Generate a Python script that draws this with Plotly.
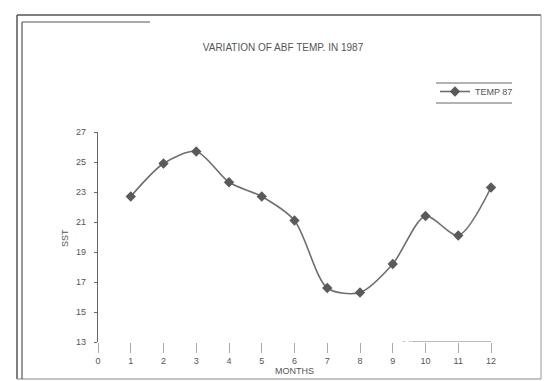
import plotly.graph_objects as go

months = [1, 2, 3, 4, 5, 6, 7, 8, 9, 10, 11, 12]
sst_1987 = [22.7, 24.9, 25.7, 23.65, 22.7, 21.1, 16.6, 16.3, 18.2, 21.4, 20.1, 23.3]
x_ticks = list(range(0, 13))
y_ticks = [13, 15, 17, 19, 21, 23, 25, 27]

W, H = 548, 381
L, R, T, B = 98, 57, 132, 39
pw, ph = W - L - R, H - T - B

def px(x):
    return (x - L) / pw

def py(y):
    return (H - B - y) / ph

fig = go.Figure()
fig.add_trace(go.Scatter(
    x=months, y=sst_1987, mode="lines+markers", name="TEMP 87",
    line=dict(color="#6e6e6e", width=1.6, shape="spline", smoothing=0.8),
    marker=dict(symbol="diamond", size=8, color="#5a5a5a"),
    cliponaxis=False,
))

frame_col = "#555555"
shapes = [
    # outer frame
    dict(type="line", xref="paper", yref="paper", x0=px(17), x1=px(17), y0=py(15), y1=py(379), line=dict(color=frame_col, width=1.5)),
    dict(type="line", xref="paper", yref="paper", x0=px(17), x1=px(541), y0=py(15), y1=py(15), line=dict(color=frame_col, width=1.5)),
    dict(type="line", xref="paper", yref="paper", x0=px(541), x1=px(541), y0=py(15), y1=py(379), line=dict(color="#999999", width=1)),
    dict(type="line", xref="paper", yref="paper", x0=px(17), x1=px(541), y0=py(379), y1=py(379), line=dict(color="#888888", width=1)),
    # inner frame lines
    dict(type="line", xref="paper", yref="paper", x0=px(22), x1=px(22), y0=py(22), y1=py(379), line=dict(color=frame_col, width=1.2)),
    dict(type="line", xref="paper", yref="paper", x0=px(22), x1=px(150), y0=py(22), y1=py(22), line=dict(color=frame_col, width=1.2)),
    # legend top/bottom rules
    dict(type="line", xref="paper", yref="paper", x0=px(436), x1=px(512), y0=py(83), y1=py(83), line=dict(color="#666666", width=1)),
    dict(type="line", xref="paper", yref="paper", x0=px(436), x1=px(512), y0=py(103), y1=py(103), line=dict(color="#666666", width=1)),
    # faint x-axis remnant
    dict(type="line", xref="x", yref="y", x0=9.6, x1=12, y0=13, y1=13, line=dict(color="#777777", width=1.2)),
    dict(type="line", xref="x", yref="y", x0=9.3, x1=9.6, y0=13, y1=13, line=dict(color="#999999", width=1, dash="dot")),
]

annotations = [
    dict(text="MONTHS", xref="paper", yref="paper", x=px(294), y=py(371), xanchor="center", yanchor="middle",
         showarrow=False, font=dict(size=9, color="#555555")),
    dict(text="SST", xref="paper", yref="paper", x=px(65), y=py(238), xanchor="center", yanchor="middle",
         textangle=-90, showarrow=False, font=dict(size=9, color="#555555")),
]

fig.update_layout(
    width=W, height=H,
    margin=dict(l=L, r=R, t=T, b=B, autoexpand=False),
    paper_bgcolor="white", plot_bgcolor="white",
    font=dict(family="Liberation Sans, Arial, sans-serif", size=9, color="#555555"),
    title=dict(text="VARIATION OF ABF TEMP. IN 1987", x=px(283), xref="paper", xanchor="center",
               y=1 - 47 / H, yanchor="middle", font=dict(size=10, color="#555555")),
    showlegend=True,
    legend=dict(x=px(435), y=py(77), xanchor="left", yanchor="top",
                bgcolor="rgba(0,0,0,0)", borderwidth=0, font=dict(size=9, color="#555555"),
                itemwidth=30, tracegroupgap=0),
    shapes=shapes,
    annotations=annotations,
    xaxis=dict(range=[0, 12], tickvals=x_ticks, showgrid=False, zeroline=False, showline=False,
               automargin=False,
               ticks="outside", ticklen=10, tickcolor="#aaaaaa", tickwidth=1),
    yaxis=dict(range=[13, 27], tickvals=y_ticks, showgrid=False, zeroline=False,
               automargin=False, ticklabelstandoff=6,
               showline=True, linecolor="#666666", linewidth=1.2,
               ticks="outside", ticklen=3, tickcolor="#666666"),
)

fig.write_html("out.html")
